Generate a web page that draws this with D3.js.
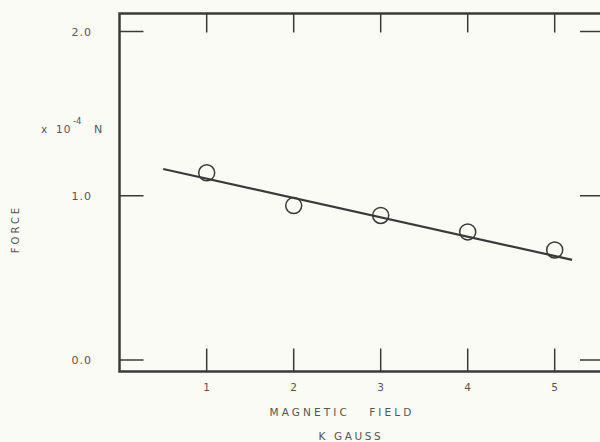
<!DOCTYPE html>
<html>
<head>
<meta charset="utf-8">
<script src="https://cdn.jsdelivr.net/npm/d3@7"></script>
<style>
  html, body { margin: 0; padding: 0; background: #fbfbf6; }
  svg { display: block; }
  text { font-family: "DejaVu Sans", sans-serif; fill: #555; }
</style>
</head>
<body>
<div id="chart"></div>
<script>
// measured points (K gauss vs force x10^-4 N)
var fieldKG = [1, 2, 3, 4, 5];
var force = [1.14, 0.94, 0.88, 0.78, 0.67];
// fitted straight line, end points
var fitX = [0.5, 5.2];
var fitY = [1.163, 0.61];
var yTicks = [0, 1, 2];
var xTicks = [1, 2, 3, 4, 5];

var width = 600, height = 442;
var svg = d3.select("#chart").append("svg")
  .attr("width", width)
  .attr("height", height);

// frame edges in pixels
var frame = { left: 119.5, right: 600, top: 13.5, bottom: 371.5 };

var x = d3.scaleLinear().domain([0, 5]).range([119.7, 554.7]);
var y = d3.scaleLinear().domain([0, 2]).range([360, 31.5]);

var ink = "#3a3a3a";

// frame
svg.append("rect")
  .attr("x", frame.left).attr("y", frame.top)
  .attr("width", frame.right - frame.left + 4).attr("height", frame.bottom - frame.top)
  .attr("fill", "none")
  .attr("stroke", ink)
  .attr("stroke-width", 2.5);

// y ticks, both sides
svg.append("g").selectAll("line")
  .data(yTicks).enter().append("line")
  .attr("x1", frame.left).attr("x2", frame.left + 24)
  .attr("y1", d => y(d)).attr("y2", d => y(d))
  .attr("stroke", ink).attr("stroke-width", 1.5);
svg.append("g").selectAll("line")
  .data(yTicks).enter().append("line")
  .attr("x1", frame.right - 20).attr("x2", frame.right)
  .attr("y1", d => y(d)).attr("y2", d => y(d))
  .attr("stroke", ink).attr("stroke-width", 1.5);

// x ticks, bottom and top
svg.append("g").selectAll("line")
  .data(xTicks).enter().append("line")
  .attr("x1", d => x(d)).attr("x2", d => x(d))
  .attr("y1", frame.bottom).attr("y2", frame.bottom - 23)
  .attr("stroke", ink).attr("stroke-width", 1.5);
svg.append("g").selectAll("line")
  .data(xTicks).enter().append("line")
  .attr("x1", d => x(d)).attr("x2", d => x(d))
  .attr("y1", frame.top).attr("y2", frame.top + 19)
  .attr("stroke", ink).attr("stroke-width", 1.5);

// tick labels
svg.append("g").selectAll("text")
  .data(yTicks).enter().append("text")
  .attr("x", 92).attr("y", d => y(d) + 4)
  .attr("text-anchor", "end")
  .attr("font-size", 11)
  .attr("letter-spacing", 1)
  .text(d => d.toFixed(1));
svg.append("g").selectAll("text")
  .data(xTicks).enter().append("text")
  .attr("x", d => x(d)).attr("y", 391)
  .attr("text-anchor", "middle")
  .attr("font-size", 10.5)
  .text(d => d);

// axis titles
svg.append("text")
  .attr("x", 342).attr("y", 416)
  .attr("text-anchor", "middle")
  .attr("font-size", 10.5)
  .attr("letter-spacing", 3.1)
  .attr("xml:space", "preserve")
  .text("MAGNETIC   FIELD");
svg.append("text")
  .attr("x", 351).attr("y", 440)
  .attr("text-anchor", "middle")
  .attr("font-size", 10.5)
  .attr("letter-spacing", 2.6)
  .text("K GAUSS");
svg.append("text")
  .attr("transform", "translate(19,229) rotate(-90)")
  .attr("text-anchor", "middle")
  .attr("font-size", 10)
  .attr("letter-spacing", 3)
  .text("FORCE");

var unit = svg.append("text")
  .attr("y", 133)
  .attr("font-size", 10.5);
unit.append("tspan").attr("x", 41).text("x");
unit.append("tspan").attr("x", 56).attr("letter-spacing", 1).text("10");
unit.append("tspan").attr("x", 73).attr("dy", -9).attr("font-size", 8.5).text("-4");
unit.append("tspan").attr("x", 94).attr("dy", 9).attr("font-size", 11).text("N");

// fit line
svg.append("path")
  .datum(d3.zip(fitX, fitY))
  .attr("fill", "none")
  .attr("stroke", ink)
  .attr("stroke-width", 2.2)
  .attr("d", d3.line().x(d => x(d[0])).y(d => y(d[1])));

// points
svg.append("g").selectAll("circle")
  .data(d3.zip(fieldKG, force)).enter().append("circle")
  .attr("cx", d => x(d[0]))
  .attr("cy", d => y(d[1]))
  .attr("r", 8)
  .attr("fill", "none")
  .attr("stroke", ink)
  .attr("stroke-width", 1.5);
</script>
</body>
</html>
